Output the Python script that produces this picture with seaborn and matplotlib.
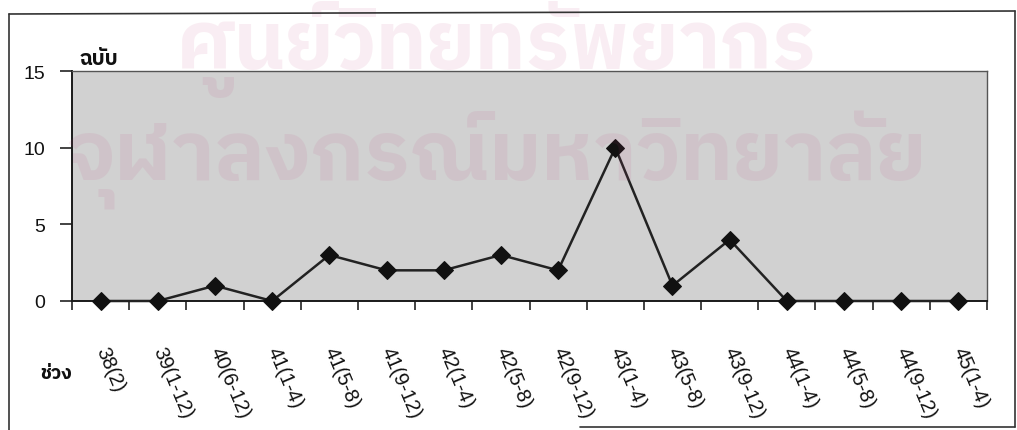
import matplotlib
matplotlib.use("Agg")
import matplotlib.pyplot as plt
import seaborn as sns
import pandas as pd
from matplotlib import font_manager as fm
from matplotlib.ft2font import FT2Font
from matplotlib.ticker import FixedLocator, NullFormatter, FixedFormatter
from matplotlib.lines import Line2D

# ---- data ----
periods = ["38(2)", "39(1-12)", "40(6-12)", "41(1-4)", "41(5-8)", "41(9-12)",
           "42(1-4)", "42(5-8)", "42(9-12)", "43(1-4)", "43(5-8)", "43(9-12)",
           "44(1-4)", "44(5-8)", "44(9-12)", "45(1-4)"]
counts = [0, 0, 1, 0, 3, 2, 2, 3, 2, 10, 1, 4, 0, 0, 0, 0]
y_ticks = [0, 5, 10, 15]
y_label = "ฉบับ"
x_label = "ช่วง"
watermark_top = "ศูนย์วิทยทรัพยากร"
watermark_bottom = "จุฬาลงกรณ์มหาวิทยาลัย"

sns.set_theme(style="white")

# find a font with Thai glyphs
def find_thai_fonts():
    found = []
    for f in fm.fontManager.ttflist:
        if "CJK" in f.name:
            continue
        try:
            cm = FT2Font(f.fname).get_charmap()
        except Exception:
            continue
        if 0x0E09 in cm and 0x0E1A in cm and 0x0E07 in cm:
            found.append(f)
    return found

thai = find_thai_fonts()
thai_names = []
for f in thai:
    if f.name not in thai_names:
        thai_names.append(f.name)
thai_names.sort(key=lambda n: (0 if "Thai" in n else 1, n))
thai_family = [thai_names[0], "DejaVu Sans"] if thai_names else ["DejaVu Sans"]

plt.rcParams["font.family"] = ["Liberation Sans", "DejaVu Sans"]

W, H = 1017, 431
PX = 0.72  # points per pixel at 100 dpi
fig = plt.figure(figsize=(W / 100, H / 100), dpi=100)
fig.patch.set_facecolor("white")

ax = fig.add_axes([72 / W, 1 - 302 / H, 915 / W, 230 / H])
ax.set_facecolor("#d1d1d1")

df = pd.DataFrame({"period": periods, "count": counts})
df["pos"] = range(len(df))
sns.lineplot(data=df, x="pos", y="count", ax=ax, color="#222222", linewidth=1.8,
             marker="D", markersize=9, markeredgecolor="#111111",
             markerfacecolor="#111111", clip_on=False, zorder=5)

n = len(periods)
ax.set_xlim(-0.5, n - 0.5)
ax.set_ylim(0, 15)
ax.set_yticks(y_ticks)
ax.set_yticklabels([str(v) for v in y_ticks], fontsize=14, color="#111111")

# major ticks at boundaries, labels at centers (minor)
ax.xaxis.set_major_locator(FixedLocator([i - 0.5 for i in range(n + 1)]))
ax.xaxis.set_major_formatter(NullFormatter())
ax.xaxis.set_minor_locator(FixedLocator(list(range(n))))
ax.xaxis.set_minor_formatter(FixedFormatter(periods))
ax.tick_params(axis="x", which="major", direction="out", length=9 * PX, width=1.2,
               color="#222222", bottom=True)
ax.tick_params(axis="x", which="minor", length=0, pad=33, labelsize=14.5,
               labelcolor="#111111", bottom=True)
for lbl in ax.get_xticklabels(minor=True):
    lbl.set_rotation(-67)
    lbl.set_rotation_mode("anchor")
    lbl.set_ha("left")
    lbl.set_va("center")
ax.tick_params(axis="y", direction="out", length=12 * PX, width=1.2, color="#222222",
               pad=15 * PX, left=True)
ax.set_xlabel("")
ax.set_ylabel("")

for side in ["left", "bottom"]:
    ax.spines[side].set_color("#1a1a1a")
    ax.spines[side].set_linewidth(1.4)
for side in ["top", "right"]:
    ax.spines[side].set_color("#555555")
    ax.spines[side].set_linewidth(1.0)

# axis titles
fig.text(80 / W, 1 - 65 / H, y_label, fontsize=15, fontweight="bold",
         family=thai_family, color="#111111", ha="left", va="baseline")
fig.text(40 / W, 1 - 374 / H, x_label, fontsize=14, fontweight="bold",
         family=thai_family, color="#111111", ha="left", va="center")

# watermark (faint, as in the scanned original)
fig.text(497 / W, 1 - 1 / H, watermark_top, fontsize=58, fontweight="bold",
         family=thai_family, color="#c0407f", alpha=0.09, ha="center",
         va="top", zorder=0.5)
fig.text(497 / W, 1 - 160 / H, watermark_bottom, fontsize=60, fontweight="bold",
         family=thai_family, color="#c0407f", alpha=0.09, ha="center",
         va="center", zorder=0.5)

# outer frame
frame_kw = dict(color="#333333", linewidth=1.2, transform=fig.transFigure)
fig.add_artist(Line2D([9 / W, 9 / W], [0, 1 - 15 / H], **frame_kw))
fig.add_artist(Line2D([9 / W, 1015 / W], [1 - 15 / H, 1 - 12 / H], **frame_kw))
fig.add_artist(Line2D([1015 / W, 1015 / W], [1 - 12 / H, 1 - 428 / H], **frame_kw))
fig.add_artist(Line2D([580 / W, 1015 / W], [1 - 428 / H, 1 - 428 / H], **frame_kw))

fig.savefig("out.png", dpi=100, facecolor="white")
